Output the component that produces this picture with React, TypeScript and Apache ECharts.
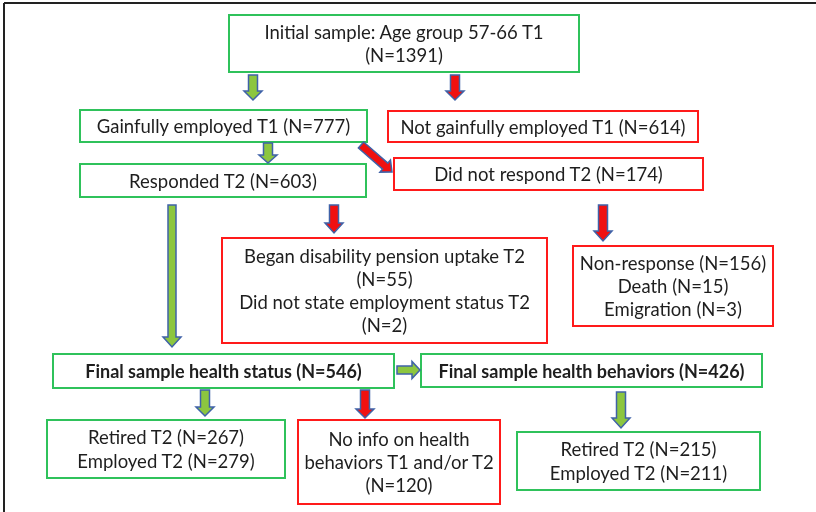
import React, { useEffect, useRef } from "react";
import * as echarts from "echarts";

// ---- content ----
const boxTexts: string[][] = [
  ["Initial sample: Age group 57-66 T1", "(N=1391)"],
  ["Gainfully employed T1 (N=777)"],
  ["Not gainfully employed T1 (N=614)"],
  ["Responded T2 (N=603)"],
  ["Did not respond T2 (N=174)"],
  ["Began disability pension uptake T2", "(N=55)", "Did not state employment status T2", "(N=2)"],
  ["Non-response (N=156)", "Death (N=15)", "Emigration (N=3)"],
  ["Final sample health status (N=546)"],
  ["Final sample health behaviors (N=426)"],
  ["Retired T2 (N=267)", "Employed T2 (N=279)"],
  ["No info on health", "behaviors T1 and/or T2", "(N=120)"],
  ["Retired T2 (N=215)", "Employed T2 (N=211)"],
];
const boxKinds: string[] = ["in", "in", "out", "in", "out", "out", "out", "in", "in", "in", "out", "in"];
const boxBold: boolean[] = [false, false, false, false, false, false, false, true, true, false, false, false];

// ---- layout (x, y, w, h) ----
const boxLayout: number[][] = [
  [229, 15, 350, 57],
  [80, 110, 287, 32],
  [388, 111, 310, 31],
  [80, 164, 286, 33],
  [394, 158, 309, 32],
  [222, 238, 325, 105],
  [573, 246, 200, 80],
  [53, 354, 341, 34],
  [421, 354, 341, 33],
  [47, 420, 238, 58],
  [298, 420, 202, 84],
  [517, 432, 243, 58],
];
// arrows: x0,y0,x1,y1, kind, shaft width, head width, head length
const arrows: [number, number, number, number, string, number, number, number][] = [
  [253, 75, 253, 100, "in", 9, 18, 9],
  [455, 75, 455, 100, "out", 9, 18, 9],
  [268, 143, 268, 163, "in", 9, 18, 8],
  [361, 145, 392, 172, "out", 8, 16, 9],
  [172, 205, 172, 347, "in", 8, 18, 10],
  [334, 205, 334, 233, "out", 9, 18, 10],
  [603, 205, 603, 241, "out", 9, 18, 10],
  [397, 370, 420, 370, "in", 8, 17, 8],
  [205, 390, 205, 416, "in", 9, 18, 9],
  [365, 390, 365, 418, "out", 9, 18, 9],
  [621, 392, 621, 428, "in", 9, 18, 10],
];

const GREEN = "#2fc25b";
const RED = "#ff1a1a";
const ARROW_IN = "#8cc63f";
const ARROW_OUT = "#f01010";
const OUTLINE = "#3f62a8";
const FONT = "Lato";
const LINE_H = 23.3;

function arrowPoints(x0: number, y0: number, x1: number, y1: number, sw: number, hw: number, hl: number) {
  const dx = x1 - x0, dy = y1 - y0;
  const L = Math.hypot(dx, dy);
  const ux = dx / L, uy = dy / L;
  const px = -uy, py = ux;
  const bx = x1 - ux * hl, by = y1 - uy * hl;
  const p = (cx: number, cy: number, s: number) => [cx + px * s, cy + py * s];
  return [
    p(x0, y0, -sw / 2),
    p(x0, y0, sw / 2),
    p(bx, by, sw / 2),
    p(bx, by, hw / 2),
    [x1, y1],
    p(bx, by, -hw / 2),
    p(bx, by, -sw / 2),
  ];
}

export default function App() {
  const ref = useRef<HTMLDivElement>(null);
  useEffect(() => {
    if (!ref.current) return;
    const chart = echarts.init(ref.current, null, { renderer: "svg" });
    const elements: any[] = [];
    elements.push({ type: "rect", shape: { x: 0, y: 0, width: 816, height: 512 }, style: { fill: "#fff" } });
    elements.push({ type: "line", shape: { x1: 4, y1: 3, x2: 816, y2: 3 }, style: { stroke: "#222", lineWidth: 2 } });
    elements.push({ type: "line", shape: { x1: 4, y1: 3, x2: 4, y2: 512 }, style: { stroke: "#222", lineWidth: 2 } });

    boxTexts.forEach((lines, i) => {
      const [x, y, w, h] = boxLayout[i];
      elements.push({
        type: "rect",
        shape: { x, y, width: w, height: h },
        style: { fill: "#fff", stroke: boxKinds[i] === "in" ? GREEN : RED, lineWidth: 2 },
      });
      const cy = y + h / 2;
      const n = lines.length;
      lines.forEach((t, j) => {
        elements.push({
          type: "text",
          x: x + w / 2,
          y: cy + (j - (n - 1) / 2) * LINE_H,
          style: {
            text: t,
            fill: "#1e1e1e",
            font: `${boxBold[i] ? "bold 18px" : "18.5px"} ${FONT}`,
            textAlign: "center",
            textVerticalAlign: "middle",
          },
        });
      });
    });

    arrows.forEach(([x0, y0, x1, y1, k, sw, hw, hl]) => {
      elements.push({
        type: "polygon",
        shape: { points: arrowPoints(x0, y0, x1, y1, sw, hw, hl) },
        style: { fill: k === "in" ? ARROW_IN : ARROW_OUT, stroke: OUTLINE, lineWidth: 1.5 },
      });
    });

    chart.setOption({ animation: false, graphic: { elements } });
    return () => chart.dispose();
  }, []);
  return <div ref={ref} style={{ position: "fixed", left: 0, top: 0, width: 816, height: 512 }} />;
}
